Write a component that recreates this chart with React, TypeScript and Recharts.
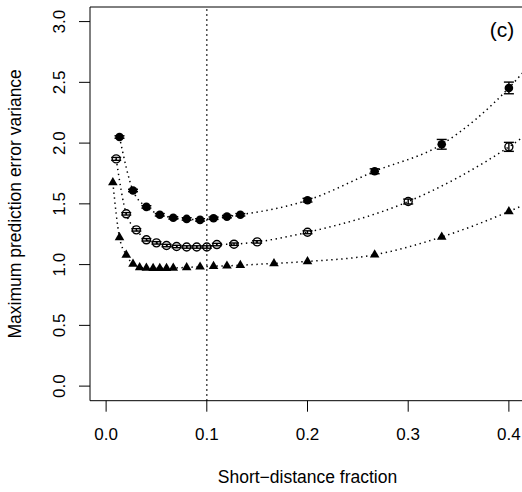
import {
  ComposedChart,
  Line,
  Scatter,
  ErrorBar,
  XAxis,
  YAxis,
  ReferenceLine,
  Label
} from "recharts";

// filled circles
const filledX = [0.0133, 0.0267, 0.04, 0.0533, 0.0667, 0.08, 0.0933, 0.1067, 0.12, 0.1333, 0.2, 0.2667, 0.3333, 0.4];
const filledY = [2.05, 1.61, 1.475, 1.41, 1.385, 1.376, 1.368, 1.382, 1.395, 1.41, 1.53, 1.768, 1.99, 2.454];
const filledErr = [0.01, 0.01, 0.01, 0.01, 0.01, 0.01, 0.01, 0.01, 0.01, 0.01, 0.015, 0.02, 0.04, 0.048];

// open circles
const openX = [0.01, 0.02, 0.03, 0.04, 0.05, 0.06, 0.07, 0.08, 0.09, 0.1, 0.11, 0.127, 0.15, 0.2, 0.3, 0.4];
const openY = [1.87, 1.418, 1.286, 1.204, 1.179, 1.157, 1.149, 1.145, 1.145, 1.145, 1.165, 1.168, 1.187, 1.266, 1.519, 1.969];
const openErr = [0.012, 0.01, 0.01, 0.01, 0.01, 0.01, 0.01, 0.01, 0.01, 0.01, 0.01, 0.01, 0.01, 0.012, 0.02, 0.037];

// filled triangles
const triX = [0.0067, 0.0133, 0.02, 0.0267, 0.0333, 0.04, 0.0467, 0.0533, 0.06, 0.0667, 0.08, 0.0933, 0.1067, 0.12, 0.1333, 0.1667, 0.2, 0.2667, 0.3333, 0.4];
const triY = [1.676, 1.224, 1.08, 1.005, 0.977, 0.972, 0.97, 0.97, 0.97, 0.972, 0.977, 0.982, 0.987, 0.99, 0.995, 1.01, 1.026, 1.081, 1.228, 1.437];

// where the dotted curves run out at the right edge of the box
const tailX = 0.416;
const tailFilled = 2.6;
const tailOpen = 2.06;
const tailTri = 1.495;

const xTicks = [0, 0.1, 0.2, 0.3, 0.4];
const yTicks = [0, 0.5, 1, 1.5, 2, 2.5, 3];

const font = "'Liberation Sans', Arial, Helvetica, sans-serif";

const toPoints = (xs: number[], ys: number[], errs?: number[]) =>
  xs.map((x, i) => ({ x, y: ys[i], err: errs ? errs[i] : 0 }));

const filledPts = toPoints(filledX, filledY, filledErr);
const openPts = toPoints(openX, openY, openErr);
const triPts = toPoints(triX, triY);

const filledCurve = [...filledPts, { x: tailX, y: tailFilled, err: 0 }];
const openCurve = [...openPts, { x: tailX, y: tailOpen, err: 0 }];
const triCurve = [...triPts, { x: tailX, y: tailTri, err: 0 }];

const FilledDot = (p: any) => <circle cx={p.cx} cy={p.cy} r={4.3} fill="#000" />;
const OpenDot = (p: any) => (
  <circle cx={p.cx} cy={p.cy} r={4} fill="none" stroke="#000" strokeWidth={1.4} />
);
const TriDot = (p: any) => (
  <polygon
    points={`${p.cx},${p.cy - 5.4} ${p.cx - 4.8},${p.cy + 2.8} ${p.cx + 4.8},${p.cy + 2.8}`}
    fill="#000"
  />
);

const XTick = ({ x, y, payload }: any) => (
  <text x={x} y={y + 28} textAnchor="middle" fontSize={17} fontFamily={font} fill="#000">
    {payload.value.toFixed(1)}
  </text>
);

const YTick = ({ x, y, payload }: any) => (
  <text
    transform={`translate(${x - 14},${y}) rotate(-90)`}
    textAnchor="middle"
    fontSize={17}
    fontFamily={font}
    fill="#000"
  >
    {payload.value.toFixed(1)}
  </text>
);

export default function App() {
  const dotted = "1.4 3.6";

  return (
    <div
      style={{
        position: "fixed",
        left: 0,
        top: 0,
        width: 522,
        height: 492,
        overflow: "hidden",
        background: "#fff"
      }}
    >
      <ComposedChart width={540} height={492} margin={{ top: 7, right: 15, bottom: 0, left: 0 }}>

        <XAxis
          dataKey="x"
          type="number"
          domain={[-0.016, 0.416]}
          allowDataOverflow
          ticks={xTicks}
          tick={<XTick />}
          tickSize={11}
          tickMargin={0}
          height={91.3}
          axisLine={{ stroke: "#000" }}
          tickLine={{ stroke: "#000" }}
        >
          <Label
            content={({ viewBox }: any) => (
              <text
                x={viewBox.x + viewBox.width / 2}
                y={483}
                textAnchor="middle"
                fontSize={17.5}
                fontFamily={font}
                fill="#000"
              >
                Short−distance fraction
              </text>
            )}
          />
        </XAxis>

        <YAxis
          type="number"
          domain={[-0.12, 3.12]}
          allowDataOverflow
          ticks={yTicks}
          tick={<YTick />}
          tickSize={11}
          tickMargin={0}
          width={90}
          axisLine={{ stroke: "#000" }}
          tickLine={{ stroke: "#000" }}
        >
          <Label
            content={({ viewBox }: any) => (
              <text
                transform={`translate(21,${viewBox.y + viewBox.height / 2}) rotate(-90)`}
                textAnchor="middle"
                fontSize={17.5}
                fontFamily={font}
                fill="#000"
              >
                Maximum prediction error variance
              </text>
            )}
          />
        </YAxis>

        <ReferenceLine y={3.12} stroke="#000" />
        <ReferenceLine x={0.1} stroke="#000" strokeWidth={1.4} strokeDasharray={dotted} />

        <Line data={filledCurve} dataKey="y" type="monotone" stroke="#000" strokeWidth={1.5}
          strokeDasharray={dotted} dot={false} activeDot={false} isAnimationActive={false} />
        <Line data={openCurve} dataKey="y" type="monotone" stroke="#000" strokeWidth={1.5}
          strokeDasharray={dotted} dot={false} activeDot={false} isAnimationActive={false} />
        <Line data={triCurve} dataKey="y" type="monotone" stroke="#000" strokeWidth={1.5}
          strokeDasharray={dotted} dot={false} activeDot={false} isAnimationActive={false} />

        <Scatter data={filledPts} dataKey="y" shape={<FilledDot />} isAnimationActive={false}>
          <ErrorBar dataKey="err" direction="y" width={5} stroke="#000" strokeWidth={1.4} />
        </Scatter>
        <Scatter data={openPts} dataKey="y" shape={<OpenDot />} isAnimationActive={false}>
          <ErrorBar dataKey="err" direction="y" width={5} stroke="#000" strokeWidth={1.4} />
        </Scatter>
        <Scatter data={triPts} dataKey="y" shape={<TriDot />} isAnimationActive={false} />

      </ComposedChart>

      <svg
        width={522}
        height={492}
        style={{ position: "absolute", left: 0, top: 0, pointerEvents: "none" }}
      >
        <text x={502} y={37} textAnchor="middle" fontSize={21} fontFamily={font} fill="#000">
          (c)
        </text>
      </svg>
    </div>
  );
}
